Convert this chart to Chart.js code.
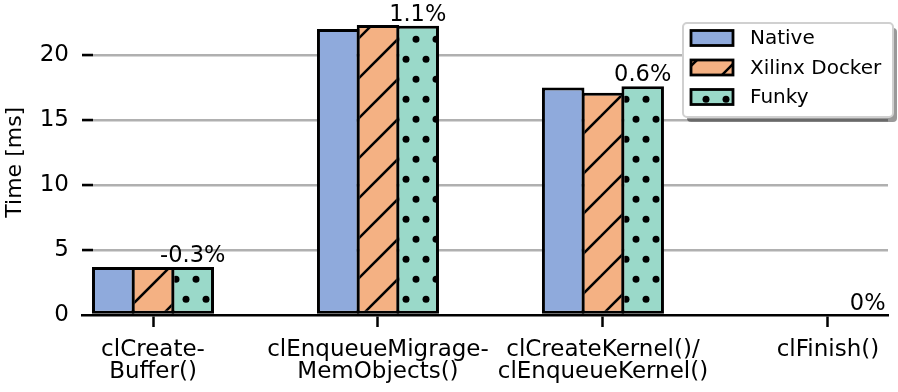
<!DOCTYPE html>
<html>
<head>
<meta charset="utf-8">
<script src="https://cdn.jsdelivr.net/npm/chart.js@4"></script>
<style>
  html, body { margin: 0; padding: 0; background: #fff; }
</style>
</head>
<body>
<canvas id="chart" width="898" height="392"></canvas>
<script>
const categories = [
  ["clCreate-", "Buffer()"],
  ["clEnqueueMigrage-", "MemObjects()"],
  ["clCreateKernel()/", "clEnqueueKernel()"],
  ["clFinish()"],
];
const nativeTimes = [3.7, 22.0, 17.5, 0.0];
const dockerTimes = [3.7, 22.3, 17.1, 0.0];
const funkyTimes = [3.69, 22.25, 17.6, 0.0];
const overheadLabels = ["-0.3%", "1.1%", "0.6%", "0%"];
const yTicks = [0, 5, 10, 15, 20];
const seriesNames = ["Native", "Xilinx Docker", "Funky"];

const FONT = "DejaVu Sans";
Chart.defaults.font.family = FONT;
Chart.defaults.font.size = 23;
Chart.defaults.color = "#000";

// hatch "/" pattern
function makeHatch(bg) {
  const c = document.createElement("canvas");
  c.width = 40;
  c.height = 40;
  const g = c.getContext("2d");
  g.fillStyle = bg;
  g.fillRect(0, 0, 40, 40);
  g.strokeStyle = "#000";
  g.lineWidth = 2.6;
  for (let k = -1; k <= 2; k++) {
    const s = 37 + 40 * k;
    g.beginPath();
    g.moveTo(s + 10, -10);
    g.lineTo(-10, s + 10);
    g.stroke();
  }
  return g.createPattern(c, "repeat");
}

// staggered dots pattern
function makeDots(bg) {
  const c = document.createElement("canvas");
  c.width = 20;
  c.height = 40;
  const g = c.getContext("2d");
  g.fillStyle = bg;
  g.fillRect(0, 0, 20, 40);
  g.fillStyle = "#000";
  const dots = [[6, 19.3], [16, 39.3]];
  dots.forEach(([x, y]) => {
    for (let dx = -20; dx <= 20; dx += 20) {
      for (let dy = -40; dy <= 40; dy += 40) {
        g.beginPath();
        g.arc(x + dx, y + dy, 3.5, 0, Math.PI * 2);
        g.fill();
      }
    }
  });
  return g.createPattern(c, "repeat");
}

const ctx = document.getElementById("chart").getContext("2d");
const fills = [
  "#8FAADC",
  makeHatch("#F4B183"),
  makeDots("#9AD9C9"),
];

function toPoints(values) {
  return values.map((v, i) => ({ x: i, y: v }));
}

const yTickMarks = {
  id: "yTickMarks",
  beforeDatasetsDraw(chart) {
    const c = chart.ctx;
    const y = chart.scales.y;
    const left = chart.chartArea.left;
    c.save();
    c.strokeStyle = "#000";
    c.lineWidth = 2.5;
    yTicks.forEach((t) => {
      const py = Math.round(y.getPixelForValue(t));
      if (t === 0) return;
      c.beginPath();
      c.moveTo(left, py);
      c.lineTo(left + 11, py);
      c.stroke();
    });
    c.restore();
  },
};

const overheadText = {
  id: "overheadText",
  afterDatasetsDraw(chart) {
    const c = chart.ctx;
    const meta = chart.getDatasetMeta(2);
    c.save();
    c.font = `22.5px "${FONT}"`;
    c.fillStyle = "#000";
    c.textAlign = "center";
    c.textBaseline = "alphabetic";
    meta.data.forEach((bar, i) => {
      c.fillText(overheadLabels[i], bar.x, bar.y - 5);
    });
    c.restore();
  },
};

const boxLegend = {
  id: "boxLegend",
  afterDraw(chart) {
    const c = chart.ctx;
    const x = 683, y = 23, w = 210, h = 94;
    c.save();
    // shadow
    c.fillStyle = "rgba(0,0,0,0.4)";
    c.beginPath();
    c.roundRect(x + 4, y + 5, w, h, 4);
    c.fill();
    c.fillStyle = "#fff";
    c.strokeStyle = "#d0d0d0";
    c.lineWidth = 2;
    c.beginPath();
    c.roundRect(x, y, w, h, 4);
    c.fill();
    c.stroke();
    seriesNames.forEach((name, i) => {
      const cy = 38 + i * 29.5;
      c.fillStyle = fills[i];
      c.fillRect(691, cy - 7.5, 42, 15);
      c.strokeStyle = "#000";
      c.lineWidth = 2.8;
      c.strokeRect(691, cy - 7.5, 42, 15);
      c.fillStyle = "#000";
      c.font = `20px "${FONT}"`;
      c.textAlign = "left";
      c.textBaseline = "middle";
      c.fillText(name, 750, cy + 1);
    });
    c.restore();
  },
};

const datasets = [nativeTimes, dockerTimes, funkyTimes].map((vals, i) => ({
  label: seriesNames[i],
  data: toPoints(vals),
  backgroundColor: fills[i],
  borderColor: "#000",
  borderWidth: 3,
  borderSkipped: false,
  categoryPercentage: 0.53,
  barPercentage: 1.07,
}));

new Chart(ctx, {
  type: "bar",
  data: { datasets: datasets },
  plugins: [yTickMarks, overheadText, boxLegend],
  options: {
    responsive: false,
    animation: false,
    devicePixelRatio: 1,
    layout: { padding: { top: 9.5, right: 10, left: 0, bottom: 0 } },
    plugins: {
      legend: { display: false },
      tooltip: { enabled: false },
    },
    scales: {
      x: {
        type: "linear",
        offset: false,
        min: -0.3156,
        max: 3.267,
        afterBuildTicks: (axis) => {
          axis.ticks = categories.map((_, i) => ({ value: i }));
        },
        afterFit: (axis) => {
          axis.height = 77;
          axis.paddingLeft = 0;
          axis.paddingRight = 0;
        },
        ticks: {
          autoSkip: false,
          maxRotation: 0,
          includeBounds: false,
          padding: 12,
          color: "#000",
          font: { size: 23, lineHeight: 0.96 },
          callback: (value) => categories[value],
        },
        grid: {
          offset: false,
          drawOnChartArea: false,
          drawTicks: true,
          tickLength: 12,
          tickColor: "#000",
          tickWidth: 2.5,
        },
        border: { display: true, color: "#000", width: 2.5 },
      },
      y: {
        min: 0,
        max: 23.5,
        afterBuildTicks: (axis) => {
          axis.ticks = yTicks.map((v) => ({ value: v }));
        },
        afterFit: (axis) => {
          axis.width = 82;
          axis.paddingTop = 0;
          axis.paddingBottom = 0;
        },
        title: {
          display: true,
          text: "Time [ms]",
          color: "#000",
          font: { size: 22 },
          padding: { top: 2, bottom: 0 },
        },
        ticks: {
          padding: 13,
          color: "#000",
          font: { size: 23 },
        },
        grid: {
          drawTicks: false,
          lineWidth: 2.5,
          color: (c) => (c.tick && c.tick.value === 0 ? "rgba(0,0,0,0)" : "#b0b0b0"),
        },
        border: { display: false },
      },
    },
  },
});
</script>
</body>
</html>
